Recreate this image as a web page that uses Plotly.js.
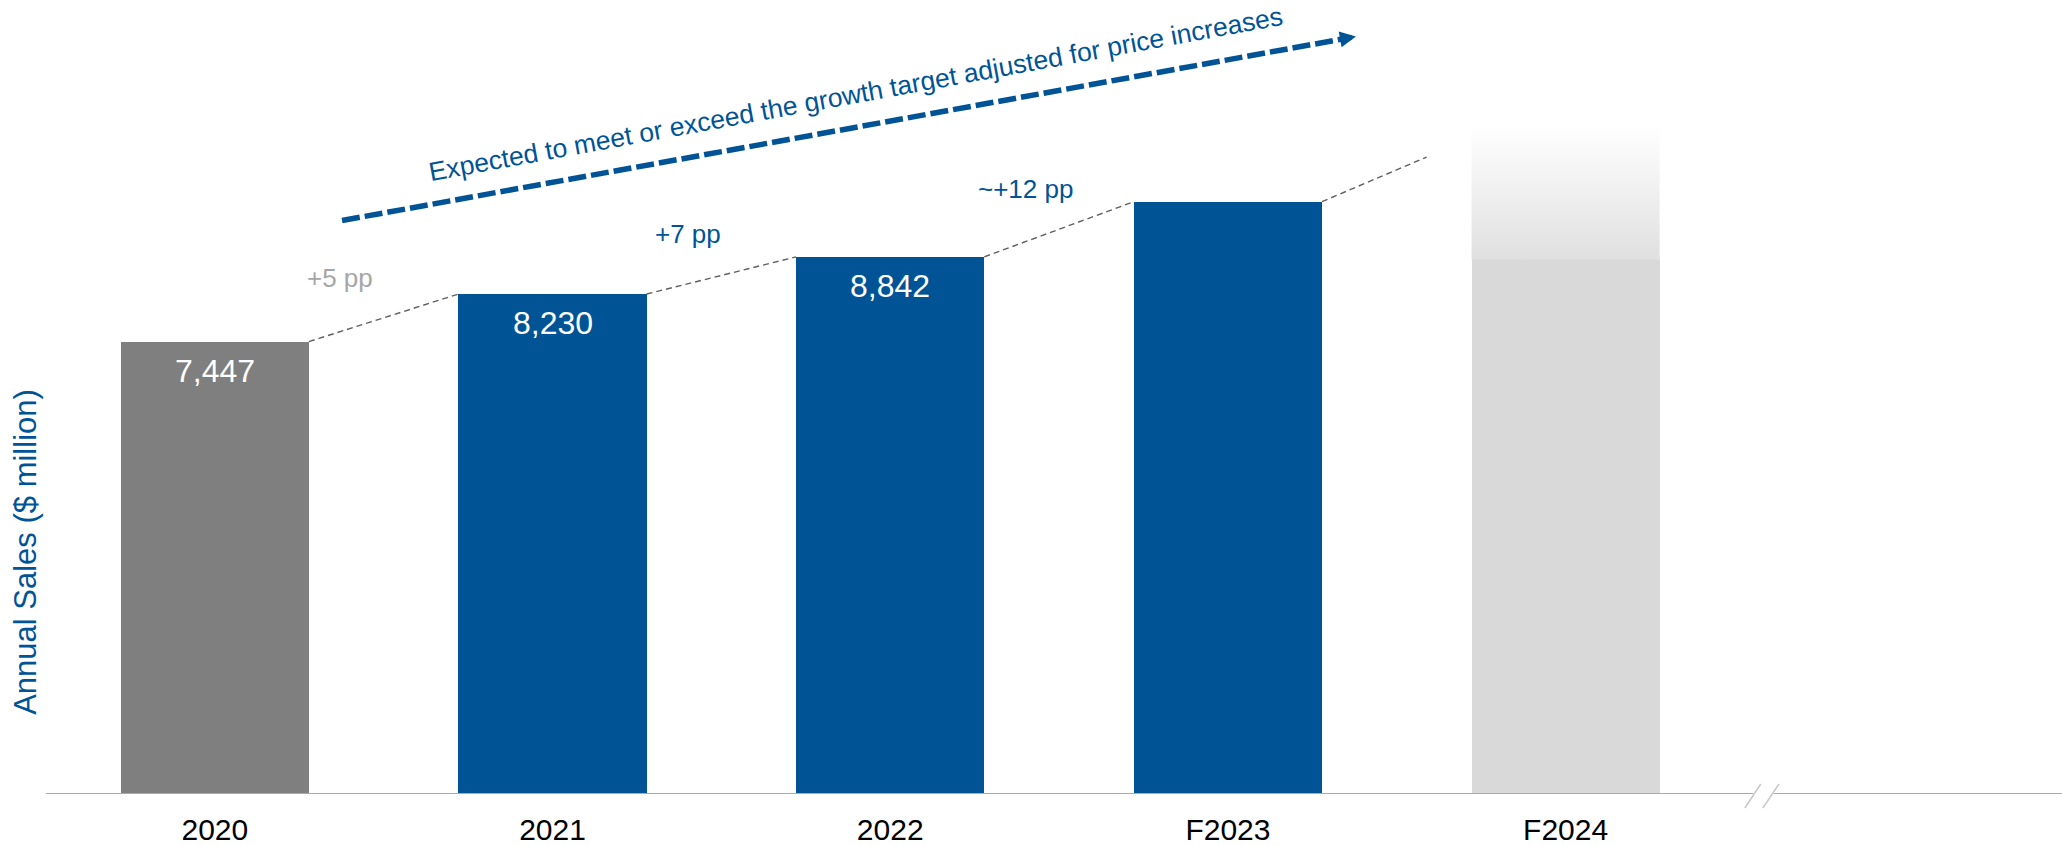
<!DOCTYPE html>
<html>
<head>
<meta charset="utf-8">
<script src="https://cdn.plot.ly/plotly-3.0.1.min.js"></script>
<style>html,body{margin:0;padding:0;background:#fff;}#chart{width:2062px;height:846px;}</style>
</head>
<body>
<div id="chart"></div>
<script>
// ---- data ----
const years = ['2020', '2021', '2022', 'F2023', 'F2024'];
const sales = [7447, 8230, 8842, 9750, 8800];          // $ million (F2023/F2024)
const salesLabels = ['7,447', '8,230', '8,842', '', ''];
const f2024FadeTop = 11000;                            // top of the faded F2024 placeholder
const projectedF2024 = 10800;                          // where the last connector heads
const growthLabels = ['+5 pp', '+7 pp', '~+12 pp'];
const arrowText = 'Expected to meet or exceed the growth target adjusted for price increases';
const yTitle = 'Annual Sales ($ million)';

// ---- styles ----
const BLUE = '#005496';
const barColors = ['#7F7F7F', BLUE, BLUE, BLUE, '#D9D9D9'];
const growthColors = ['#A6A6A6', BLUE, BLUE];
const W = 0.557;               // bar width (category units)
const FONT = '"Liberation Sans", Arial, sans-serif';
const xIdx = years.map((_, i) => i);

const traces = [
  {
    type: 'bar', x: xIdx, y: sales, width: W,
    marker: {color: barColors, line: {width: 0}},
    hoverinfo: 'skip'
  },
  {
    type: 'scatter', mode: 'lines',
    x: [4 - W / 2, 4 + W / 2, 4 + W / 2, 4 - W / 2, 4 - W / 2],
    y: [sales[4], sales[4], f2024FadeTop, f2024FadeTop, sales[4]],
    fill: 'toself', line: {width: 0, color: 'rgba(0,0,0,0)'},
    fillcolor: '#E8E8E8',
    fillgradient: {type: 'vertical', colorscale: [[0, '#E0E0E0'], [1, '#FFFFFF']]},
    hoverinfo: 'skip'
  }
];

const shapes = [];
// dashed connectors between bar tops
for (let i = 0; i < 3; i++) {
  shapes.push({
    type: 'line', xref: 'x', yref: 'y',
    x0: i + W / 2, y0: sales[i], x1: i + 1 - W / 2, y1: sales[i + 1],
    line: {color: '#5F5F5F', width: 1.4, dash: '6px,4px'}
  });
}
// last connector, drawn part of the way toward F2024
{
  const f = 0.7, xa = 3 + W / 2, xb = 4 - W / 2;
  shapes.push({
    type: 'line', xref: 'x', yref: 'y',
    x0: xa, y0: sales[3], x1: xa + f * (xb - xa), y1: sales[3] + f * (projectedF2024 - sales[3]),
    line: {color: '#5F5F5F', width: 1.4, dash: '6px,4px'}
  });
}
// baseline with break
const gapL = 4.555, gapR = 4.617;
shapes.push({type: 'line', xref: 'x', yref: 'y', x0: -0.5, x1: gapL, y0: 0, y1: 0, line: {color: '#ABABAB', width: 2}, layer: 'above'});
shapes.push({type: 'line', xref: 'x', yref: 'y', x0: gapR, x1: 5.47, y0: 0, y1: 0, line: {color: '#ABABAB', width: 2}, layer: 'above'});
shapes.push({type: 'line', xref: 'x', yref: 'paper', x0: 4.531, x1: 4.578, y0: -0.0176, y1: 0.0126, line: {color: '#C8C8C8', width: 1.5}});
shapes.push({type: 'line', xref: 'x', yref: 'paper', x0: 4.584, x1: 4.632, y0: -0.0176, y1: 0.0126, line: {color: '#C8C8C8', width: 1.5}});
// big dashed trend arrow (line part)
shapes.push({
  type: 'line', xref: 'x', yref: 'y',
  x0: 0.3767, y0: 9440, x1: 3.335, y1: 12424,
  line: {color: BLUE, width: 5.5, dash: '18px,5px'}
});

const annotations = [];
// value labels inside bars
sales.forEach((v, i) => {
  if (!salesLabels[i]) return;
  annotations.push({
    x: i, y: v, xref: 'x', yref: 'y', text: salesLabels[i], showarrow: false,
    xanchor: 'center', yanchor: 'middle', yshift: -29,
    font: {family: FONT, size: 32, color: '#FFFFFF'}
  });
});
// growth labels
const gxOff = [0.37, 0.40, 0.40];
const gyOff = [272, 371, 217];
growthLabels.forEach((t, i) => {
  annotations.push({
    x: i + gxOff[i], y: sales[i + 1] + gyOff[i], xref: 'x', yref: 'y', text: t, showarrow: false,
    xanchor: 'center', yanchor: 'middle',
    font: {family: FONT, size: 26, color: growthColors[i]}
  });
});
// arrow head
annotations.push({
  x: 3.379, y: 12469, xref: 'x', yref: 'y', text: '', showarrow: true,
  arrowhead: 2, arrowsize: 0.64, arrowwidth: 5, arrowcolor: BLUE,
  ax: -15.7, ay: 2.9, standoff: 0
});
// arrow text
annotations.push({
  x: 1.899, y: 11520, xref: 'x', yref: 'y', text: arrowText, showarrow: false,
  textangle: -10.4, xanchor: 'center', yanchor: 'middle',
  font: {family: FONT, size: 26.5, color: BLUE}
});
// y-axis title
annotations.push({
  x: 0, y: 0.305, xref: 'paper', yref: 'paper', xshift: -20, text: yTitle, showarrow: false,
  textangle: -90, xanchor: 'center', yanchor: 'middle',
  font: {family: FONT, size: 31, color: BLUE}
});

const layout = {
  width: 2062, height: 846,
  margin: {l: 46, r: 0, t: 0, b: 52},
  paper_bgcolor: '#FFFFFF', plot_bgcolor: '#FFFFFF',
  showlegend: false,
  xaxis: {
    range: [-0.5, 5.47], tickvals: xIdx, ticktext: years,
    showgrid: false, zeroline: false, showline: false, ticks: '',
    ticklabelstandoff: 15,
    tickfont: {family: FONT, size: 30, color: '#000000'},
    fixedrange: true
  },
  yaxis: {range: [0, 13070], visible: false, fixedrange: true},
  shapes: shapes,
  annotations: annotations,
  bargap: 0
};

Plotly.newPlot('chart', traces, layout, {displayModeBar: false, staticPlot: true});
</script>
</body>
</html>
